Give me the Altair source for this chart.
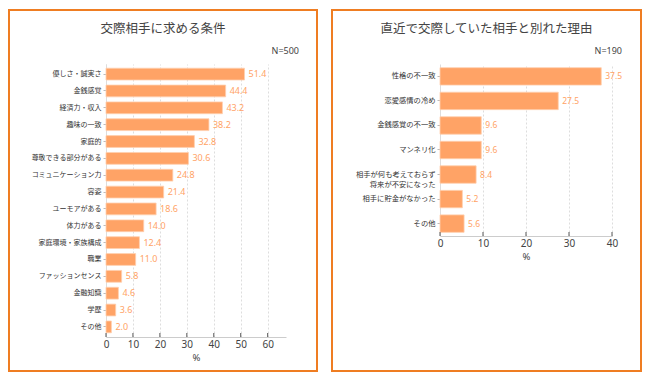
import altair as alt
import pandas as pd

# ---- data ----
left_title = "交際相手に求める条件"
left_n = "N=500"
left_cats = ["優しさ・誠実さ", "金銭感覚", "経済力・収入", "趣味の一致", "家庭的",
             "尊敬できる部分がある", "コミュニケーション力", "容姿", "ユーモアがある",
             "体力がある", "家庭環境・家族構成", "職業", "ファッションセンス",
             "金融知識", "学歴", "その他"]
left_vals = [51.4, 44.4, 43.2, 38.2, 32.8, 30.6, 24.8, 21.4, 18.6, 14.0, 12.4,
             11.0, 5.8, 4.6, 3.6, 2.0]
left_ticks = [0, 10, 20, 30, 40, 50, 60]

right_title = "直近で交際していた相手と別れた理由"
right_n = "N=190"
right_cats = ["性格の不一致", "恋愛感情の冷め", "金銭感覚の不一致", "マンネリ化",
              "相手が何も考えておらず\n将来が不安になった", "相手に貯金がなかった", "その他"]
right_vals = [37.5, 27.5, 9.6, 9.6, 8.4, 5.2, 5.6]
right_ticks = [0, 10, 20, 30, 40]

FONT = "Noto Sans CJK JP"
NUMFONT = "Noto Sans"
BAR = "#FFA366"
FRAME = "#EF7D22"


def panel(cats, vals, ticks, xmax, width, height, pad_in, pad_out, label_size,
          title, n_text, frame, title_x, n_x, val_size):
    df = pd.DataFrame({"cat": cats, "val": vals})
    tdf = pd.DataFrame({"val": ticks})
    one = pd.DataFrame({"k": [0]})

    xscale = alt.Scale(domain=[0, xmax], nice=False, zero=True)
    yscale = alt.Scale(paddingInner=pad_in, paddingOuter=pad_out)
    xaxis = alt.Axis(values=ticks, title="%", grid=True, gridDash=[2, 2],
                     gridColor="#dddddd", domainColor="#cccccc",
                     ticks=False, labelFont=NUMFONT, labelFontSize=10,
                     labelColor="#444444", labelPadding=2,
                     labelOverlap=False, labelFlush=False,
                     titleFont=NUMFONT, titleFontSize=9.5, titleFontWeight="normal",
                     titleColor="#444444", titlePadding=3)
    yaxis = alt.Axis(title=None, labelFont=FONT, labelFontSize=label_size,
                     labelColor="#333333", labelPadding=2, tickSize=3,
                     tickColor="#bbbbbb", domainColor="#dddddd",
                     labelExpr="split(datum.label, '\\n')",
                     labelLineHeight=label_size + 3)
    xenc = alt.X("val:Q", scale=xscale, axis=xaxis, title="%")
    yenc = alt.Y("cat:N", sort=cats, scale=yscale, axis=yaxis)

    base = alt.Chart(df)
    bars = base.mark_bar(color=BAR, stroke="#FFCFAE", strokeWidth=0.8).encode(
        x=xenc, y=yenc)
    labels = base.mark_text(align="left", baseline="middle", dx=4, color=BAR,
                            font=NUMFONT, fontSize=val_size).encode(
        x=xenc, y=yenc, text=alt.Text("val:Q", format=".1f"))
    tickmarks = alt.Chart(tdf).mark_rule(color="#555555", strokeWidth=1).encode(
        x=xenc, y=alt.value(height - 4), y2=alt.value(height))
    box = alt.Chart(one).mark_rect(fill=None, stroke=FRAME, strokeWidth=2).encode(
        x=alt.value(frame[0]), x2=alt.value(frame[1]),
        y=alt.value(frame[2]), y2=alt.value(frame[3]),
    )
    ttl = alt.Chart(one).mark_text(align="center", baseline="middle", font=FONT,
                                   fontSize=12.5, color="#444444").encode(
        x=alt.value(title_x), y=alt.value(-35), text=alt.value(title))
    ntxt = alt.Chart(one).mark_text(align="right", baseline="middle", font=NUMFONT,
                                    fontSize=9, color="#444444").encode(
        x=alt.value(n_x), y=alt.value(-13), text=alt.value(n_text))
    return alt.layer(box, bars, labels, tickmarks, ttl, ntxt).properties(
        width=width, height=height)


left = panel(left_cats, left_vals, left_ticks, 66.8, 180, 273, 0.3, 0.25, 7,
             left_title, left_n, (-97, 211, -54, 307), 57, 193, 9)
right = panel(right_cats, right_vals, right_ticks, 40, 172, 172, 0.29, 0.15, 7.3,
              right_title, right_n, (-108, 201, -54, 307), 46.5, 182, 8.5)

chart = alt.hconcat(left, right, spacing=13).properties(
    padding={"left": 0, "top": 1, "right": 0, "bottom": 0}
).configure_view(stroke=None)

chart.save("out.html", embed_options={"renderer": "svg", "actions": False})
